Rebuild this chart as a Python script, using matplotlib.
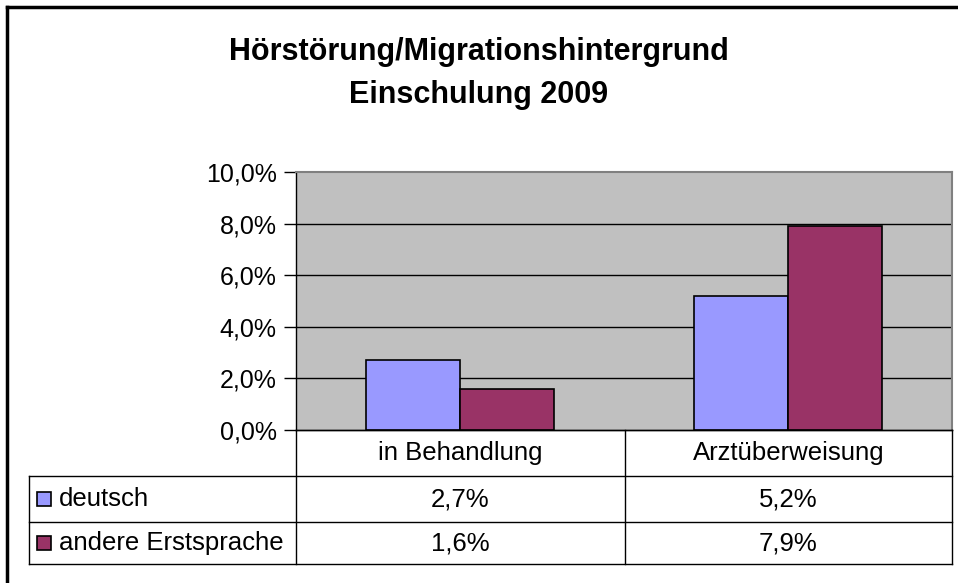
import matplotlib
matplotlib.use("Agg")
import matplotlib.pyplot as plt
import numpy as np
from matplotlib.lines import Line2D
from matplotlib.patches import Rectangle

plt.rcParams['font.family'] = ['Liberation Sans', 'DejaVu Sans']

title_lines = ["Hörstörung/Migrationshintergrund", "Einschulung 2009"]
categories = ["in Behandlung", "Arztüberweisung"]
series_names = ["deutsch", "andere Erstsprache"]
deutsch = [2.7, 5.2]
andere = [1.6, 7.9]
y_ticks = [0, 2, 4, 6, 8, 10]
colors = ["#9999FF", "#993366"]

W, H = 958, 583
fig = plt.figure(figsize=(W / 100, H / 100), dpi=100)

def fx(px):
    return px / W

def fy(py):
    return 1 - py / H

# plot area pixel bounds
L, R, T, B = 296, 952, 172, 430
ax = fig.add_axes([fx(L), fy(B), fx(R) - fx(L), fy(T) - fy(B)])
ax.set_facecolor("#C0C0C0")
x = np.arange(len(categories))
bw = 1 / 3.5
ax.bar(x - bw / 2, deutsch, bw, color=colors[0], edgecolor="black", linewidth=1.2, zorder=3)
ax.bar(x + bw / 2, andere, bw, color=colors[1], edgecolor="black", linewidth=1.2, zorder=3)
ax.set_xlim(-0.5, len(categories) - 0.5)
ax.set_ylim(0, 10)
ax.set_yticks(y_ticks)
ax.set_yticklabels([f"{v:.1f}%".replace(".", ",") for v in y_ticks], fontsize=18)
ax.set_xticks([])
for v in y_ticks[1:-1]:
    ax.axhline(v, color="black", linewidth=1, zorder=1)
ax.tick_params(axis="y", direction="out", length=9, width=1, pad=5, colors="black")
for s in ["top", "right"]:
    ax.spines[s].set_color("#808080")
    ax.spines[s].set_linewidth(1.5)
for s in ["left", "bottom"]:
    ax.spines[s].set_color("black")
    ax.spines[s].set_linewidth(1)

# title
for line, by in zip(title_lines, [60, 103]):
    fig.text(fx(479), fy(by), line, ha="center", va="baseline", fontsize=22, fontweight="bold")

# outer border (top & left visible)
fig.add_artist(Line2D([fx(7), fx(958)], [fy(7), fy(7)], color="black", linewidth=2.5))
fig.add_artist(Line2D([fx(7), fx(7)], [fy(7), fy(583)], color="black", linewidth=2.5))

# data table
tl, tmid, tr = 29, 625, 952
r0, r1, r2, r3 = 430, 476, 522, 564
lw = 1.0
def hline(x0, x1, y):
    fig.add_artist(Line2D([fx(x0), fx(x1)], [fy(y), fy(y)], color="black", linewidth=lw))
def vline(xp, y0, y1):
    fig.add_artist(Line2D([fx(xp), fx(xp)], [fy(y0), fy(y1)], color="black", linewidth=lw))

hline(L, tr, r0)
hline(tl, tr, r1)
hline(tl, tr, r2)
hline(tl, tr, r3)
vline(tl, r1, r3)
vline(L, r0, r3)
vline(tmid, r0, r3)
vline(tr, r0, r3)

fs = 18.5
col_centers = [(L + tmid) / 2, (tmid + tr) / 2]
for c, cx in zip(categories, col_centers):
    fig.text(fx(cx), fy((r0 + r1) / 2), c, ha="center", va="center", fontsize=fs)

rows = [deutsch, andere]
row_y = [(r1 + r2) / 2, (r2 + r3) / 2]
for name, vals, col, ry in zip(series_names, rows, colors, row_y):
    fig.add_artist(Rectangle((fx(37), fy(ry + 7)), fx(14), 14 / H, facecolor=col,
                             edgecolor="black", linewidth=1.2))
    fig.text(fx(59), fy(ry), name, ha="left", va="center", fontsize=fs)
    for v, cx in zip(vals, col_centers):
        fig.text(fx(cx), fy(ry), f"{v:.1f}%".replace(".", ","), ha="center", va="center",
                 fontsize=fs)

fig.savefig("out.png", dpi=100)
